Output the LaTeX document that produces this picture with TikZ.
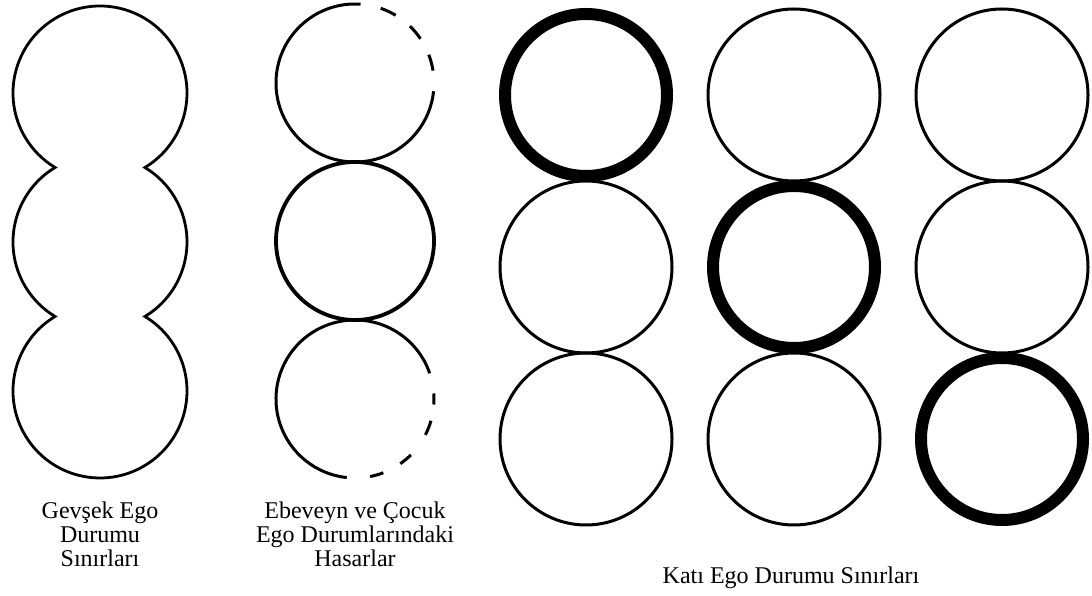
\documentclass[tikz,border=0pt]{standalone}
\usepackage{fontspec}
\setmainfont{Liberation Serif}
\usetikzlibrary{calc}
\begin{document}
\begin{tikzpicture}[x=1pt,y=1pt,
  thinring/.style={line width=3pt},
  boldring/.style={line width=12pt},
  outline/.style={line width=2.8pt},
  midring/.style={line width=3.8pt},
  lbl/.style={inner sep=0pt, align=center, font=\fontsize{24}{24}\selectfont}]
\useasboundingbox (0,0) rectangle (1092,596);
% ---- left: merged loose boundaries ----
\coordinate (LA) at (100,503);
\coordinate (LB) at (100,354);
\coordinate (LC) at (100,205);
\draw[outline,line join=miter]
  (144.93,428.5) arc[start angle=-58.9,end angle=238.9,radius=87]
  arc[start angle=121.1,end angle=238.9,radius=87]
  arc[start angle=121.1,end angle=418.9,radius=87]
  arc[start angle=-58.9,end angle=58.9,radius=87] -- cycle;
\node[lbl] (l1) at (100,62) {Gevşek Ego\\Durumu\\Sınırları};
% ---- middle: damaged ----
\coordinate (MA) at (355,513);
\coordinate (MB) at (355,355);
\coordinate (MC) at (355,197);
\draw[thinring] ($(MA)+(86:79)$) arc[start angle=86,end angle=354,radius=79];
\foreach \a/\b in {9/21,34/46,59/71}
  \draw[thinring] ($(MA)+(\a:79)$) arc[start angle=\a,end angle=\b,radius=79];
\draw[midring] (MB) circle[radius=79];
\draw[thinring] ($(MC)+(19:79)$) arc[start angle=19,end angle=264,radius=79];
\foreach \a/\b in {-79/-69,-55/-45,-27/-16,-4/4}
  \draw[thinring] ($(MC)+(\a:79)$) arc[start angle=\a,end angle=\b,radius=79];
\node[lbl] (l2) at (355,62) {Ebeveyn ve Çocuk\\Ego Durumlarındaki\\Hasarlar};
% ---- right: rigid boundaries ----
\foreach \c/\x in {1/586,2/794,3/1002}
  \foreach \r/\y in {1/501,2/329,3/157}{
    \coordinate (R\r\c) at (\x,\y);
    \ifnum\r=\c
      \draw[boldring] (R\r\c) circle[radius=81];
    \else
      \draw[thinring] (R\r\c) circle[radius=86];
    \fi
  }
\node[lbl] (l3) at (791,18) {Katı Ego Durumu Sınırları};
\end{tikzpicture}
\end{document}
